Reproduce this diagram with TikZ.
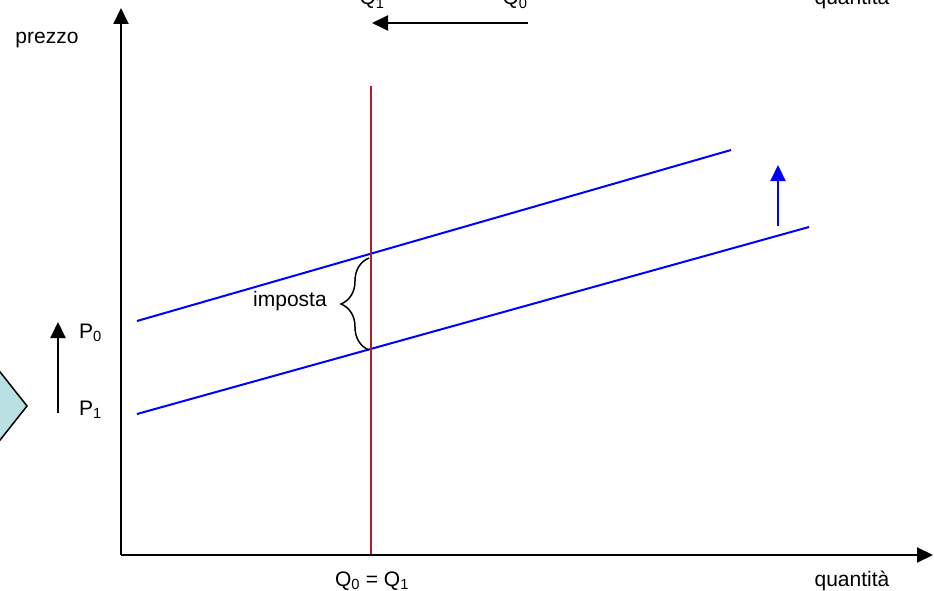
\documentclass[tikz,border=0pt]{standalone}
\usepackage{fontspec}
\setmainfont{Liberation Sans}
\usetikzlibrary{arrows.meta,decorations.pathreplacing}
\definecolor{taxred}{RGB}{170,34,34}
\definecolor{diamondfill}{RGB}{185,225,228}
\definecolor{curveblue}{RGB}{0,0,255}
\tikzset{
  axis/.style={line width=2pt,-{Triangle[length=16pt,width=15pt]}},
  shiftarrow/.style={line width=2pt,-{Triangle[length=16pt,width=15pt]}},
  curve/.style={curveblue,line width=2pt},
  lbl/.style={inner sep=0pt,font=\fontsize{21}{25}\selectfont},
}
\begin{document}
\begin{tikzpicture}[x=1pt,y=-1pt]
\useasboundingbox (0,0) rectangle (934,591);
\begin{scope}
\clip (0,0) rectangle (934,591);
% diamond partially visible at left
\draw[fill=diamondfill,line width=1.5pt] (27,406) -- (-60,296) -- (-147,406) -- (-60,516) -- cycle;
% coordinates
\coordinate (O) at (121,555);
\coordinate (Ytip) at (121,8);
\coordinate (Xtip) at (933,555);
\coordinate (S0a) at (137,414);
\coordinate (S0b) at (809,227);
\coordinate (S1a) at (137,321);
\coordinate (S1b) at (731,150);
\coordinate (Rtop) at (371,86);
\coordinate (Rbot) at (371,555);
\coordinate (BrTop) at (369,258);
\coordinate (BrBot) at (369,350);
\coordinate (Ba) at (778,226);
\coordinate (Bb) at (778,165);
\coordinate (Pa) at (58,413);
\coordinate (Pb) at (58,322);
\coordinate (Qa) at (528,23);
\coordinate (Qb) at (372,23);
% curves
\draw[curve] (S0a) -- (S0b);
\draw[curve] (S1a) -- (S1b);
\draw[taxred,line width=2pt] (Rtop) -- (Rbot);
% axes
\draw[axis] (O) -- (Ytip);
\draw[axis] (O) -- (Xtip);
% shift arrows
\draw[shiftarrow,curveblue] (Ba) -- (Bb);
\draw[shiftarrow] (Pa) -- (Pb);
\draw[shiftarrow] (Qa) -- (Qb);
% brace
\draw[line width=1.5pt,decorate,decoration={brace,amplitude=28pt,aspect=0.5}] (BrBot) -- (BrTop);
% labels
\node[lbl,anchor=base] (prezzo) at (47,44) {prezzo};
\node[lbl,anchor=base] (qbot) at (852,586) {quantità};
\node[lbl,anchor=base] (qtop) at (852,5) {quantità};
\node[lbl,anchor=base] (q1top) at (372,5) {Q\textsubscript{1}};
\node[lbl,anchor=base] (q0top) at (515,5) {Q\textsubscript{0}};
\node[lbl,anchor=base] (qeq) at (372,586) {Q\textsubscript{0} = Q\textsubscript{1}};
\node[lbl,anchor=base] (imposta) at (290,306) {imposta};
\node[lbl,anchor=base west] (p0) at (79,338) {P\textsubscript{0}};
\node[lbl,anchor=base west] (p1) at (79,415) {P\textsubscript{1}};
\end{scope}
\end{tikzpicture}
\end{document}
